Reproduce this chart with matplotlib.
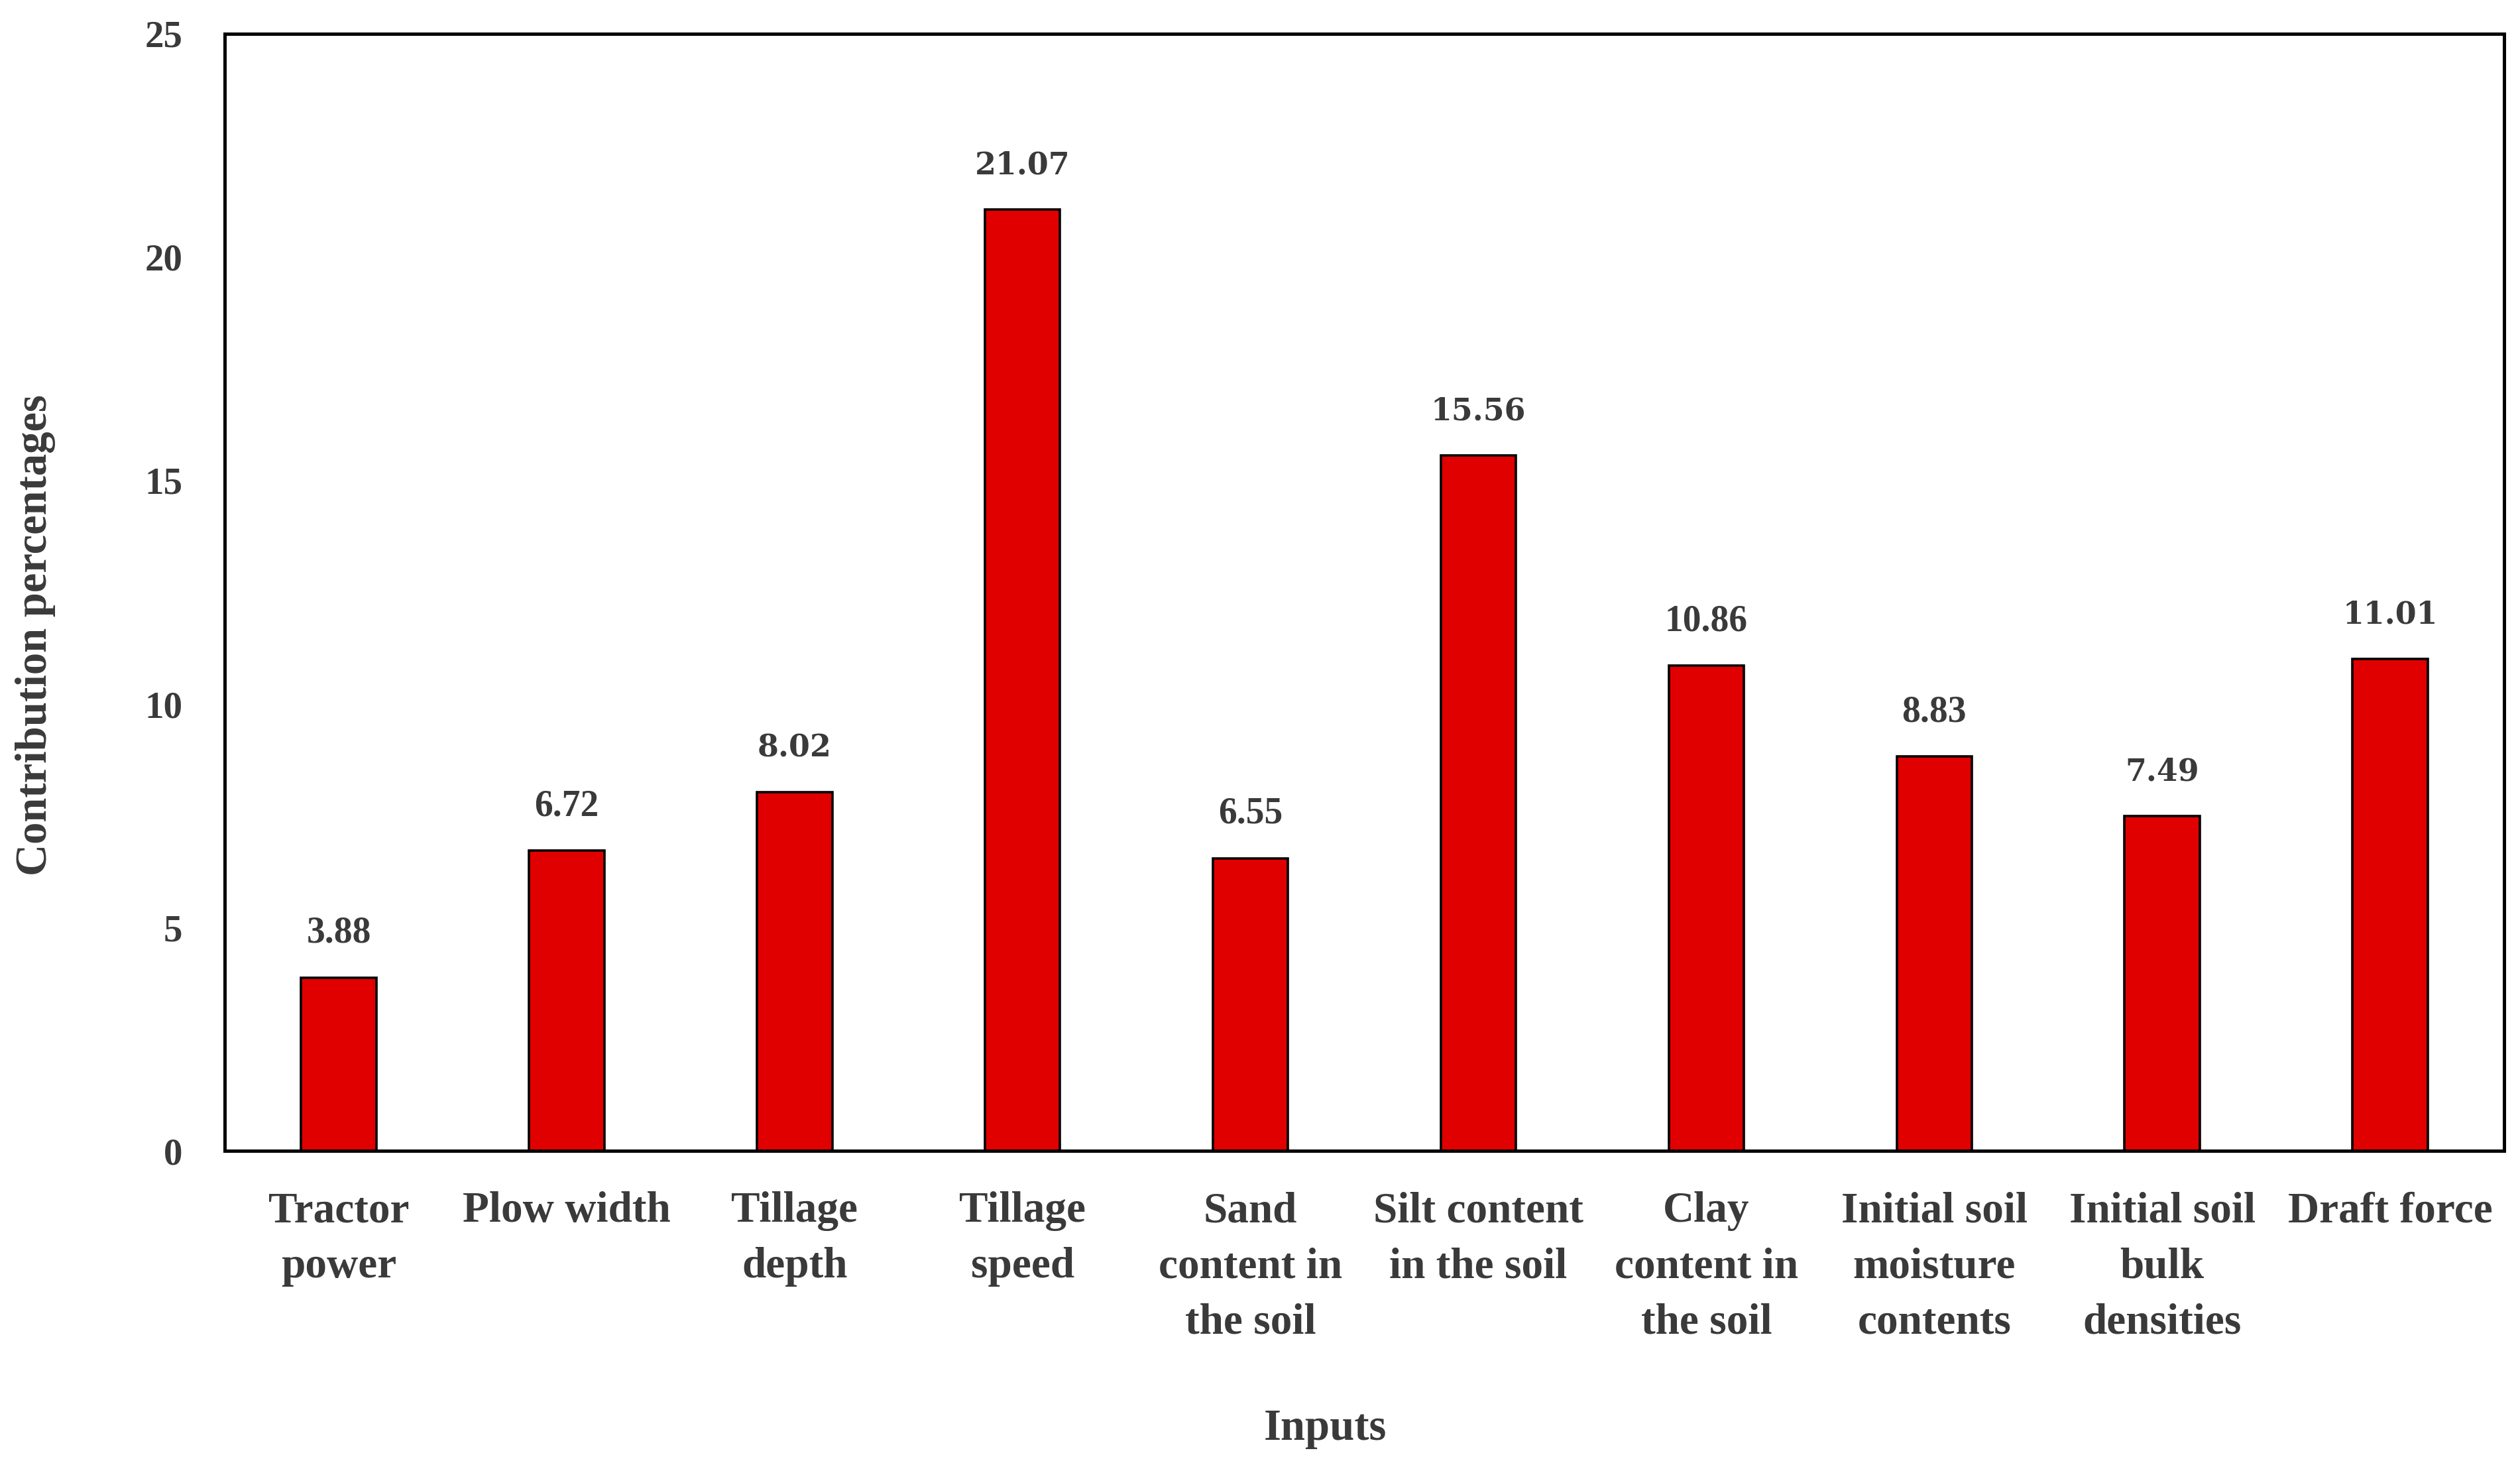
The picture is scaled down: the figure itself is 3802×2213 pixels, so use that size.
import matplotlib
matplotlib.use("Agg")
import matplotlib.pyplot as plt

categories = ["Tractor\npower", "Plow width", "Tillage\ndepth", "Tillage\nspeed",
              "Sand\ncontent in\nthe soil", "Silt content\nin the soil",
              "Clay\ncontent in\nthe soil", "Initial soil\nmoisture\ncontents",
              "Initial soil\nbulk\ndensities", "Draft force"]
values = [3.88, 6.72, 8.02, 21.07, 6.55, 15.56, 10.86, 8.83, 7.49, 11.01]
yticks = [0, 5, 10, 15, 20, 25]

TXT = "#3a3a3a"
fig = plt.figure(figsize=(38.02, 22.13), dpi=100)
ax = fig.add_axes([0.0892, 0.2155, 0.9045, 0.7615])

x = list(range(len(values)))
bars = ax.bar(x, values, width=0.33, color="#E00000", edgecolor="black",
              linewidth=2.6, zorder=2)

ax.set_xlim(-0.5, len(values) - 0.5)
ax.set_ylim(0, 25)
ax.set_yticks(yticks)
ax.set_yticklabels([str(t) for t in yticks], fontfamily="Liberation Serif",
                   fontsize=41, color=TXT, fontweight="bold")
ax.set_xticks(x)
ax.set_xticklabels(categories, fontfamily="Liberation Serif", fontsize=47,
                   color=TXT, linespacing=1.52, va="top", fontweight="bold")
ax.tick_params(axis="y", length=0, pad=46)
ax.tick_params(axis="x", length=0, pad=44)

for s in ax.spines.values():
    s.set_linewidth(3.6)
    s.set_color("black")
    s.set_zorder(3)

narrow = {0, 1, 4, 6, 7}
for i, (b, v) in enumerate(zip(bars, values)):
    if i in narrow:
        kw = dict(fontfamily="Liberation Serif", fontsize=40, fontweight="bold")
    else:
        kw = dict(fontfamily="DejaVu Serif", fontsize=33, fontweight="bold")
    ax.annotate(f"{v:.2f}", xy=(b.get_x() + b.get_width() / 2, v),
                xytext=(0, 48), textcoords="offset points",
                ha="center", va="center", color=TXT, **kw)

fig.text(0.014, 0.567, "Contribution percentages", rotation=90,
         ha="center", va="center", fontfamily="Liberation Serif",
         fontsize=48, color=TXT, fontweight="bold")
fig.text(0.526, 0.026, "Inputs", ha="center", va="center",
         fontfamily="Liberation Serif", fontsize=48, color=TXT, fontweight="bold")

fig.savefig("out.png", dpi=100, facecolor="white")
